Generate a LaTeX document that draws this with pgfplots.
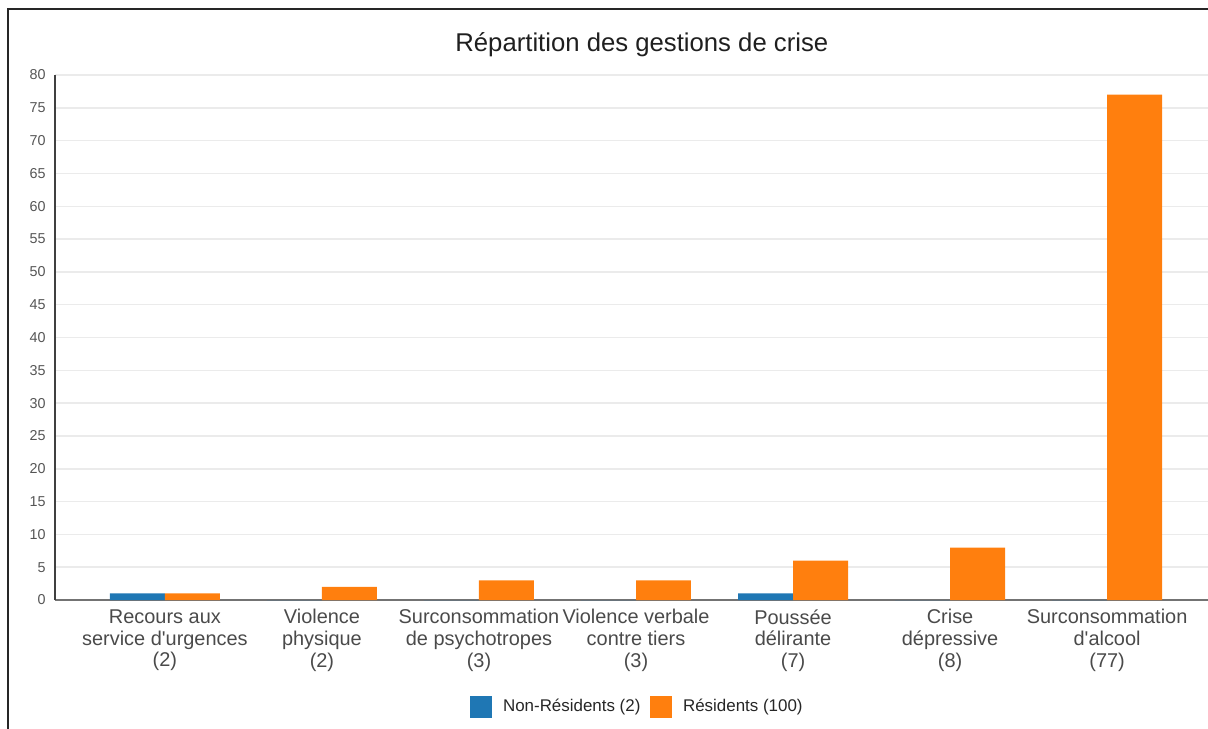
\documentclass[border=0pt]{standalone}
\usepackage{fontspec}
\setmainfont{Liberation Sans}
\usepackage{pgfplots}
\pgfplotsset{compat=1.18}

\definecolor{nonres}{HTML}{1F77B4}
\definecolor{res}{HTML}{FF7F0E}
\definecolor{labgray}{HTML}{4A4A4A}
\definecolor{tickgray}{HTML}{555555}
\definecolor{gridgray}{HTML}{EBEBEB}

\begin{document}
\begin{tikzpicture}[x=1bp,y=1bp]
\useasboundingbox (0,0) rectangle (604,364);
\clip (0,-10) rectangle (620,364);
\draw[line width=1bp,black!85] (4,-20) rectangle (700,359.5);
\begin{axis}[
    at={(27.5bp,64bp)}, anchor=south west,
    scale only axis,
    width=581bp, height=262.5bp,
    ybar=0pt,
    bar width=0.35,
    xmin=-0.7, xmax=6.7,
    ymin=0, ymax=80,
    ytick distance=5,
    xtick={0,...,6},
    xticklabels={
        {Recours aux\\service d\textquotesingle urgences\\(2)},
        {Violence\\physique\\(2)},
        {Surconsommation\\de psychotropes\\(3)},
        {Violence verbale\\contre tiers\\(3)},
        {Poussée\\délirante\\(7)},
        {Crise\\dépressive\\(8)},
        {Surconsommation\\d\textquotesingle alcool\\(77)}},
    major tick length=0pt,
    axis x line*=bottom, axis y line*=left,
    x axis line style={-, draw=black!55, line width=0.8bp},
    y axis line style={-, draw=black!75, line width=0.8bp},
    ymajorgrids,
    grid style={draw=gridgray, line width=0.75bp},
    /pgf/number format/assume math mode=true,
    yticklabel style={font=\fontsize{7.2}{8}\selectfont, text=tickgray, inner sep=0pt, xshift=-4.5bp},
    xticklabel style={font=\fontsize{10}{11}\selectfont, text=labgray, align=center, inner sep=0pt, yshift=-4.5bp},
    title={Répartition des gestions de crise},
    title style={font=\fontsize{12.9}{14}\selectfont, text=black!88, at={(0.505,1)}, anchor=center, yshift=9bp},
    legend columns=2,
    legend style={at={(0.502,-0.204)}, anchor=center, draw=none, fill=none,
        font=\fontsize{8.5}{10}\selectfont, text=black!85,
        /tikz/every even column/.style={column sep=2.8bp},
        inner sep=0pt},
    legend image code/.code={\fill[#1] (0bp,-5.5bp) rectangle (11bp,5.5bp); \path (14.5bp,0bp);},
]
\addplot[fill=nonres, draw=none, bar shift=-0.175] coordinates {
    (0,1) (1,0) (2,0) (3,0) (4,1) (5,0) (6,0)
};
\addplot[fill=res, draw=none, bar shift=0.175] coordinates {
    (0,1) (1,2) (2,3) (3,3) (4,6) (5,8) (6,77)
};
\legend{Non-Résidents (2), Résidents (100)}
\end{axis}
\end{tikzpicture}
\end{document}
